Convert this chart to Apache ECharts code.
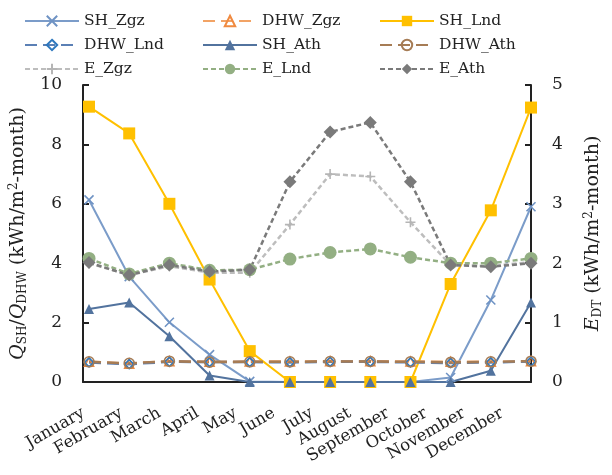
<!DOCTYPE html>
<html>
<head>
<meta charset="utf-8">
<script src="https://cdn.jsdelivr.net/npm/echarts@6/dist/echarts.min.js"></script>
<style>
  html, body { margin: 0; padding: 0; background: #fff; }
  #chart { width: 612px; height: 475px; }
</style>
</head>
<body>
<div id="chart"></div>
<script>
// Monthly categories
const months = ['January', 'February', 'March', 'April', 'May', 'June', 'July',
  'August', 'September', 'October', 'November', 'December'];

// Space heating demand, kWh/m2-month (left axis)
const SH_Zgz = [6.13, 3.55, 2.01, 0.92, 0.02, 0, 0, 0, 0, 0.15, 2.76, 5.90];
const SH_Lnd = [9.27, 8.37, 6.00, 3.45, 1.04, 0, 0, 0, 0, 3.30, 5.78, 9.24];
const SH_Ath = [2.46, 2.68, 1.54, 0.22, 0, 0, 0, 0, 0, 0, 0.38, 2.68];

// Domestic hot water demand, kWh/m2-month (left axis)
const DHW_Zgz = [0.68, 0.62, 0.70, 0.68, 0.69, 0.69, 0.70, 0.70, 0.69, 0.68, 0.68, 0.70];
const DHW_Lnd = [0.66, 0.60, 0.68, 0.67, 0.67, 0.66, 0.68, 0.68, 0.66, 0.64, 0.66, 0.69];
const DHW_Ath = [0.68, 0.63, 0.70, 0.67, 0.68, 0.68, 0.69, 0.69, 0.68, 0.66, 0.68, 0.70];

// Energy E_DT, kWh/m2-month (right axis)
const E_Zgz = [2.00, 1.80, 1.95, 1.84, 1.84, 2.65, 3.50, 3.46, 2.69, 1.97, 1.95, 2.02];
const E_Lnd = [2.08, 1.82, 2.00, 1.88, 1.89, 2.07, 2.18, 2.24, 2.10, 2.00, 2.00, 2.08];
const E_Ath = [2.01, 1.80, 1.97, 1.86, 1.89, 3.37, 4.21, 4.37, 3.37, 1.97, 1.94, 2.00];

// Axis tick values
const leftTicks = [0, 2, 4, 6, 8, 10];
const rightTicks = [0, 1, 2, 3, 4, 5];

const FONT = 'DejaVu Serif';
const TXT = '#222';

const crossPath = 'path://M0,0L10,10M10,0L0,10';
const plusPath = 'path://M5,0L5,10M0,5L10,5';

const toPoints = arr => arr.map((v, i) => [i, v]);

function lineSeries(name, data, yIdx, opt) {
  return {
    name: name,
    type: 'line',
    xAxisIndex: 0,
    yAxisIndex: yIdx,
    data: toPoints(data),
    symbol: opt.symbol,
    symbolSize: opt.size,
    showAllSymbol: true,
    lineStyle: { color: opt.color, width: opt.width || 2, type: opt.dash || 'solid' },
    itemStyle: {
      color: opt.fill,
      borderColor: opt.stroke || opt.color,
      borderWidth: opt.bw || 0
    },
    emphasis: { disabled: true },
    animation: false
  };
}

const longDash = [12, 6];
const shortDash = [5, 3];

const series = [
  lineSeries('SH_Zgz', SH_Zgz, 0, { color: '#7B9CC9', symbol: crossPath, size: 9, fill: 'rgba(0,0,0,0)', stroke: '#6F93C4', bw: 1.6 }),
  lineSeries('DHW_Zgz', DHW_Zgz, 0, { color: '#F2A365', symbol: 'triangle', size: 9, fill: 'rgba(0,0,0,0)', stroke: '#F08A40', bw: 1.6, dash: longDash, width: 2.5 }),
  lineSeries('SH_Lnd', SH_Lnd, 0, { color: '#FFC000', symbol: 'rect', size: 12, fill: '#FFC000', width: 2 }),
  lineSeries('DHW_Lnd', DHW_Lnd, 0, { color: '#5B80B5', symbol: 'diamond', size: 9, fill: 'rgba(0,0,0,0)', stroke: '#2E78BE', bw: 1.6, dash: longDash, width: 2.5 }),
  lineSeries('SH_Ath', SH_Ath, 0, { color: '#52739E', symbol: 'triangle', size: 10, fill: '#52739E', width: 2 }),
  lineSeries('DHW_Ath', DHW_Ath, 0, { color: '#A67C55', symbol: 'circle', size: 10, fill: 'rgba(0,0,0,0)', stroke: '#A67C55', bw: 1.6, dash: longDash, width: 2.5 }),
  lineSeries('E_Zgz', E_Zgz, 1, { color: '#BDBDBD', symbol: plusPath, size: 10, fill: 'rgba(0,0,0,0)', stroke: '#B5B5B5', bw: 1.6, dash: shortDash, width: 2.5 }),
  lineSeries('E_Lnd', E_Lnd, 1, { color: '#93AF83', symbol: 'circle', size: 13, fill: '#93AF83', dash: shortDash, width: 2.5 }),
  lineSeries('E_Ath', E_Ath, 1, { color: '#7A7A7A', symbol: 'diamond', size: 13, fill: '#7A7A7A', dash: shortDash, width: 2.5 })
];

function legendCol(left, names) {
  return {
    orient: 'vertical',
    left: left,
    top: 7,
    itemWidth: 54,
    itemHeight: 13,
    itemGap: 6,
    data: names,
    textStyle: { fontFamily: FONT, fontSize: 15.5, color: TXT, lineHeight: 18 },
    selectedMode: false
  };
}

const axisLineStyle = { color: '#222', width: 2 };

const option = {
  backgroundColor: '#fff',
  animation: false,
  legend: [
    legendCol(19, ['SH_Zgz', 'DHW_Lnd', 'E_Zgz']),
    legendCol(197, ['DHW_Zgz', 'SH_Ath', 'E_Lnd']),
    legendCol(374, ['SH_Lnd', 'DHW_Ath', 'E_Ath'])
  ],
  grid: { left: 82, right: 65, top: 85, bottom: 93, containLabel: false },
  xAxis: [
    {
      // data axis: months placed at 0..11
      type: 'value',
      min: -0.15,
      max: 11,
      axisLine: { show: true, lineStyle: axisLineStyle, onZero: false },
      axisTick: { show: false },
      axisLabel: { show: false },
      splitLine: { show: false }
    },
    {
      // month name labels
      type: 'value',
      position: 'bottom',
      min: -0.013,
      max: 11.76,
      axisLine: { show: false, onZero: false },
      axisTick: { show: false },
      splitLine: { show: false },
      axisLabel: {
        customValues: months.map((m, i) => i),
        formatter: v => months[Math.round(v)],
        rotate: 30,
        margin: 30,
        fontFamily: FONT,
        fontSize: 16.5,
        color: TXT
      }
    }
  ],
  yAxis: [
    {
      type: 'value',
      position: 'left',
      min: 0,
      max: 10,
      interval: 2,
      axisLine: { show: true, onZero: false, lineStyle: axisLineStyle },
      axisTick: { show: true, inside: true, length: 6, lineStyle: axisLineStyle },
      axisLabel: {
        customValues: leftTicks,
        margin: 21,
        fontFamily: FONT, fontSize: 17, color: TXT
      },
      splitLine: { show: false },
      name: '{i|Q}{s|SH}/{i|Q}{s|DHW} (kWh/m{p|2}-month)',
      nameLocation: 'middle',
      nameRotate: 90,
      nameGap: 54,
      nameTextStyle: {
        fontFamily: FONT, fontSize: 19, color: TXT,
        rich: {
          i: { fontFamily: FONT, fontSize: 19, fontStyle: 'italic', color: TXT },
          s: { fontFamily: FONT, fontSize: 12, color: TXT, padding: [9, 0, 0, 0] },
          p: { fontFamily: FONT, fontSize: 12, color: TXT, padding: [0, 0, 9, 0] }
        }
      }
    },
    {
      type: 'value',
      position: 'right',
      min: 0,
      max: 5,
      interval: 1,
      axisLine: { show: true, onZero: false, lineStyle: axisLineStyle },
      axisTick: { show: true, inside: true, length: 6, lineStyle: axisLineStyle },
      axisLabel: {
        customValues: rightTicks,
        margin: 21,
        fontFamily: FONT, fontSize: 17, color: TXT
      },
      splitLine: { show: false },
      name: '{i|E}{s|DT} (kWh/m{p|2}-month)',
      nameLocation: 'middle',
      nameRotate: 90,
      nameGap: 52,
      nameTextStyle: {
        fontFamily: FONT, fontSize: 19, color: TXT,
        rich: {
          i: { fontFamily: FONT, fontSize: 19, fontStyle: 'italic', color: TXT },
          s: { fontFamily: FONT, fontSize: 12, color: TXT, padding: [9, 0, 0, 0] },
          p: { fontFamily: FONT, fontSize: 12, color: TXT, padding: [0, 0, 9, 0] }
        }
      }
    }
  ],
  series: series
};

const chart = echarts.init(document.getElementById('chart'), null, { renderer: 'canvas' });
chart.setOption(option);
</script>
</body>
</html>
